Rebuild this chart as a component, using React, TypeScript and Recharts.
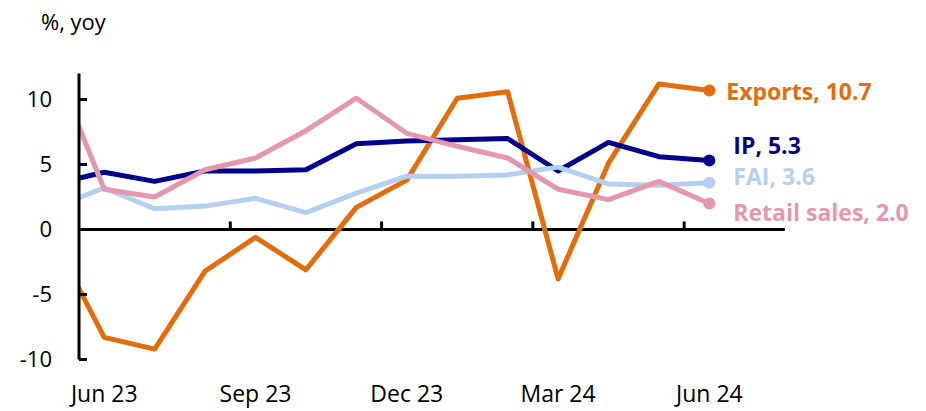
import React from "react";
import {
  Line,
  LineChart,
  ReferenceLine,
  XAxis,
  YAxis,
} from "recharts";

// month index -1 (May 23) is only there so the lines run into the y-axis, it gets clipped
const months = [
  "May 23", "Jun 23", "Jul 23", "Aug 23", "Sep 23", "Oct 23", "Nov 23",
  "Dec 23", "Jan 24", "Feb 24", "Mar 24", "Apr 24", "May 24", "Jun 24",
];
const exportsYoy = [-0.8, -8.3, -9.2, -3.2, -0.6, -3.1, 1.7, 3.8, 10.1, 10.6, -3.8, 5.1, 11.2, 10.7];
const ipYoy = [3.5, 4.4, 3.7, 4.5, 4.5, 4.6, 6.6, 6.8, 6.9, 7.0, 4.5, 6.7, 5.6, 5.3];
const faiYoy = [1.7, 3.2, 1.6, 1.8, 2.4, 1.3, 2.8, 4.1, 4.1, 4.2, 4.8, 3.5, 3.4, 3.6];
const retailYoy = [12.7, 3.1, 2.5, 4.6, 5.5, 7.6, 10.1, 7.4, 6.4, 5.5, 3.1, 2.3, 3.7, 2.0];

const labelTicks = [0, 3, 6, 9, 12];
const boundaryTicks = [2.5, 5.5, 8.5, 11.5];
const yTicks = [-10, -5, 0, 5, 10];

const data = months.map((m, i) => ({
  x: i - 1,
  month: m,
  exports: exportsYoy[i],
  ip: ipYoy[i],
  fai: faiYoy[i],
  retail: retailYoy[i],
}));

const FONT = "'Open Sans', sans-serif";
const last = data.length - 1;

const series = [
  { key: "exports", name: "Exports", color: "#E46C0A", dx: 17, dy: 10 },
  { key: "ip", name: "IP", color: "#00008C", dx: 24, dy: -7 },
  { key: "fai", name: "FAI", color: "#B4D0F0", dx: 24, dy: 2 },
  { key: "retail", name: "Retail sales", color: "#E597AE", dx: 24, dy: 17 },
];

function endDot(color: string) {
  return (props: any) => {
    const { cx, cy, index } = props;
    if (index !== last || cx == null) return <g key={`d-${index}`} />;
    return <circle key={`d-${index}`} cx={cx} cy={cy} r={6} fill={color} />;
  };
}

function endLabel(s: (typeof series)[number]) {
  return (props: any) => {
    const { x, y, index, value } = props;
    if (index !== last) return null;
    return (
      <text
        x={x + s.dx}
        y={y + s.dy}
        fill={s.color}
        fontFamily={FONT}
        fontSize={23}
        fontWeight={700}
      >
        {`${s.name}, ${Number(value).toFixed(1)}`}
      </text>
    );
  };
}

export default function App() {
  return (
    <div style={{ position: "fixed", left: 0, top: 0, width: 926, height: 411, background: "#fff" }}>
      <div
        style={{
          position: "absolute",
          left: 41,
          top: 10,
          fontFamily: FONT,
          fontSize: 22,
          lineHeight: "22px",
          color: "#000",
        }}
      >
        %, yoy
      </div>
      <LineChart
        width={926}
        height={411}
        data={data}
        margin={{ top: 73.5, right: 141, bottom: 0, left: 0 }}
      >
        <XAxis
          dataKey="x"
          type="number"
          domain={[-0.5, 13.5]}
          allowDataOverflow
          ticks={labelTicks}
          tickFormatter={(v: number) => months[v + 1]}
          axisLine={false}
          tickLine={false}
          tickSize={0}
          tickMargin={26}
          height={51.5}
          interval={0}
          tick={{ fill: "#000", fontSize: 23, fontFamily: FONT }}
        />
        <YAxis
          type="number"
          domain={[-10, 12]}
          allowDataOverflow
          ticks={yTicks}
          width={79}
          interval={0}
          axisLine={{ stroke: "#000", strokeWidth: 3 }}
          tickLine={{ stroke: "#000", strokeWidth: 3 }}
          tickSize={-8}
          tickMargin={35}
          tick={{ fill: "#000", fontSize: 22, fontFamily: FONT }}
        />
        <ReferenceLine y={0} stroke="#000" strokeWidth={3} />
        {boundaryTicks.map((t) => (
          <ReferenceLine
            key={t}
            segment={[{ x: t, y: 0 }, { x: t, y: 0.62 }]}
            stroke="#000"
            strokeWidth={3}
          />
        ))}
        {series.map((s) => (
          <Line
            key={s.key}
            type="linear"
            dataKey={s.key}
            stroke={s.color}
            strokeWidth={5}
            strokeLinejoin="round"
            dot={endDot(s.color)}
            activeDot={false}
            label={endLabel(s)}
            isAnimationActive={false}
          />
        ))}
      </LineChart>
    </div>
  );
}
